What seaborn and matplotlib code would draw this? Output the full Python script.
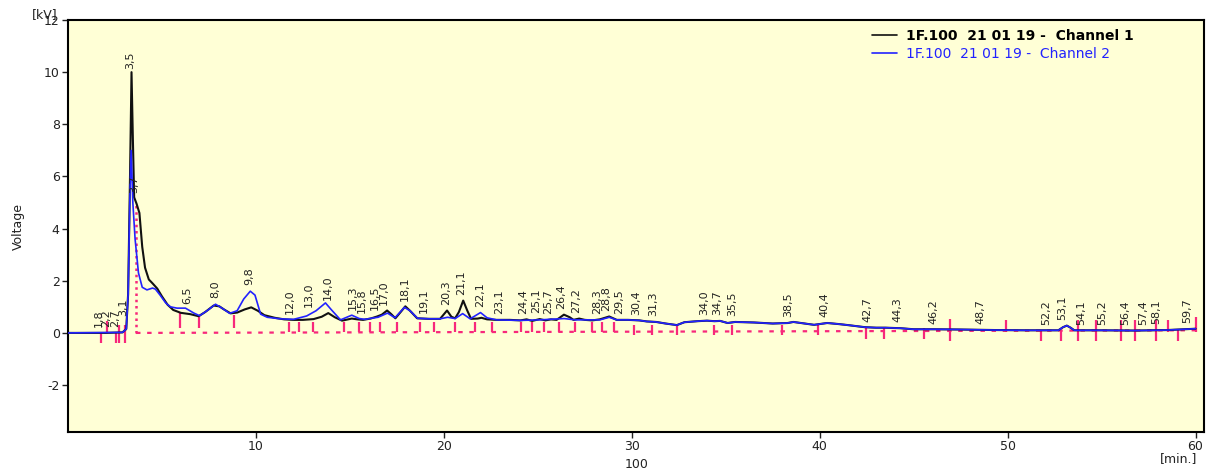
import numpy as np
import pandas as pd
import matplotlib
matplotlib.use("Agg")
import matplotlib.pyplot as plt
from matplotlib.lines import Line2D
import seaborn as sns

# ---------------- data ----------------
ch1_t = [0.0, 1.0, 2.0, 2.9, 3.1, 3.2, 3.3, 3.38, 3.45, 3.52, 3.65, 3.8, 3.95, 4.1, 4.3,
         4.5, 4.75, 5.0, 5.3, 5.6, 6.0, 6.5, 6.95, 7.3, 7.75, 8.05, 8.3, 8.65, 9.0, 9.4,
         9.75, 10.1, 10.45, 11.0, 11.5, 12.0, 12.5, 13.07, 13.5, 13.85, 14.2, 14.58, 15.1,
         15.4, 15.7, 16.1, 16.45, 16.7, 16.98, 17.2, 17.42, 17.7, 17.95, 18.2, 18.58, 19.2,
         19.8, 20.17, 20.4, 20.6, 20.8, 21.03, 21.25, 21.45, 21.8, 22.0, 22.3, 22.8, 23.5,
         24.08, 24.4, 24.7, 25.1, 25.4, 25.7, 26.0, 26.39, 26.7, 26.9, 27.2, 27.5, 27.9,
         28.3, 28.8, 29.2, 29.8, 30.4, 30.8, 31.3, 31.8, 32.4, 32.8, 33.5, 34.0, 34.4, 34.7,
         35.1, 35.5, 36.5, 37.5, 38.3, 38.6, 39.0, 39.7, 40.4, 41.0, 41.5, 42.4, 43.0, 43.5,
         44.3, 45.0, 46.1, 47.5, 49.3, 51.0, 52.7, 52.95, 53.15, 53.35, 53.55, 55.0, 56.8,
         58.5, 59.4, 60.0]
ch1_v = [0.0, 0.0, 0.0, 0.02, 0.15, 1.5, 6.0, 10.0, 7.5, 5.2, 4.95, 4.6, 3.3, 2.5, 2.05,
         1.9, 1.7, 1.4, 1.08, 0.88, 0.77, 0.72, 0.64, 0.8, 1.05, 1.02, 0.9, 0.75, 0.78, 0.9,
         0.98, 0.85, 0.68, 0.58, 0.52, 0.5, 0.5, 0.53, 0.62, 0.76, 0.6, 0.47, 0.55,
         0.52, 0.5, 0.55, 0.63, 0.7, 0.86, 0.72, 0.56, 0.8, 1.02, 0.85, 0.56, 0.54,
         0.54, 0.86, 0.62, 0.56, 0.8, 1.24, 0.85, 0.54, 0.55, 0.58, 0.52, 0.5, 0.5,
         0.48, 0.52, 0.46, 0.53, 0.48, 0.52, 0.5, 0.7, 0.6, 0.5, 0.55, 0.5, 0.48,
         0.52, 0.63, 0.5, 0.5, 0.48, 0.44, 0.42, 0.36, 0.3, 0.41, 0.45, 0.47, 0.45, 0.46,
         0.38, 0.42, 0.4, 0.36, 0.38, 0.42, 0.38, 0.31, 0.38, 0.34, 0.3, 0.22, 0.2, 0.2,
         0.18, 0.14, 0.14, 0.13, 0.11, 0.1, 0.1, 0.22, 0.28, 0.2, 0.1, 0.1, 0.09,
         0.11, 0.14, 0.16]

ch2_t = [0.0, 2.9, 3.1, 3.2, 3.3, 3.36, 3.45, 3.57, 3.75, 3.95, 4.2, 4.5, 4.65, 4.9, 5.2,
         5.45, 5.8, 6.25, 6.7, 7.0, 7.4, 7.85, 8.2, 8.6, 9.0, 9.35, 9.7, 9.95, 10.25, 10.6,
         11.3, 12.0, 12.7, 13.2, 13.7, 14.0, 14.5, 15.1, 15.5, 15.8, 16.2, 16.5, 17.0, 17.4,
         17.9, 18.2, 18.6, 19.2, 19.8, 20.2, 20.6, 21.0, 21.4, 21.95, 22.3, 22.8, 24.08,
         25.1, 26.4, 27.0, 28.3, 28.8, 29.2, 29.8, 30.4, 30.8, 31.3, 31.8, 32.4, 32.8, 33.5,
         34.0, 34.4, 34.7, 35.1, 35.5, 36.5, 37.5, 38.3, 38.6, 39.0, 39.7, 40.4, 41.0, 41.5,
         42.4, 43.0, 43.5, 44.3, 45.0, 46.1, 47.5, 49.3, 51.0, 52.7, 52.95, 53.15, 53.35,
         53.55, 55.0, 56.8, 58.5, 59.4, 60.0]
ch2_v = [0.0, 0.02, 0.15, 1.5, 5.5, 7.0, 5.0, 3.6, 2.3, 1.75, 1.65, 1.72, 1.68, 1.45, 1.15,
         1.0, 0.95, 0.95, 0.76, 0.66, 0.85, 1.1, 0.95, 0.75, 0.85, 1.3, 1.6, 1.45, 0.72, 0.6,
         0.54, 0.52, 0.65, 0.85, 1.15, 0.9, 0.5, 0.68, 0.55, 0.52, 0.57, 0.6, 0.76, 0.58,
         0.98, 0.85, 0.56, 0.54, 0.54, 0.6, 0.55, 0.74, 0.54, 0.78, 0.58, 0.5, 0.48,
         0.5, 0.55, 0.5, 0.5, 0.6, 0.5, 0.5, 0.48, 0.44, 0.42, 0.36, 0.3, 0.41, 0.45,
         0.47, 0.45, 0.46, 0.38, 0.42, 0.4, 0.36, 0.38, 0.42, 0.38, 0.31, 0.38, 0.34, 0.3,
         0.22, 0.2, 0.2, 0.18, 0.14, 0.14, 0.13, 0.11, 0.1, 0.1, 0.22, 0.28, 0.2,
         0.1, 0.1, 0.09, 0.11, 0.14, 0.16]

peak_rt = [1.8, 2.2, 2.7, 3.1, 3.5, 3.7, 6.5, 8.0, 9.8, 12.0, 13.0, 14.0, 15.3, 15.8, 16.5,
           17.0, 18.1, 19.1, 20.3, 21.1, 22.1, 23.1, 24.4, 25.1, 25.7, 26.4, 27.2, 28.3,
           28.8, 29.5, 30.4, 31.3, 34.0, 34.7, 35.5, 38.5, 40.4, 42.7, 44.3, 46.2, 48.7,
           52.2, 53.1, 54.1, 55.2, 56.4, 57.4, 58.1, 59.7]
peak_text = ["1,8", "2,2", "2,7", "3,1", "3,5", "3,7", "6,5", "8,0", "9,8", "12,0", "13,0",
             "14,0", "15,3", "15,8", "16,5", "17,0", "18,1", "19,1", "20,3", "21,1", "22,1",
             "23,1", "24,4", "25,1", "25,7", "26,4", "27,2", "28,3", "28,8", "29,5", "30,4",
             "31,3", "34,0", "34,7", "35,5", "38,5", "40,4", "42,7", "44,3", "46,2", "48,7",
             "52,2", "53,1", "54,1", "55,2", "56,4", "57,4", "58,1", "59,7"]

mark_t = [1.74, 2.09, 2.56, 2.73, 3.04, 5.97, 6.99, 8.81, 11.74, 12.31, 13.02, 14.67, 15.47,
          16.05, 16.62, 17.51, 18.75, 19.46, 20.62, 21.65, 22.54, 24.08, 24.7, 25.32, 26.12,
          27.0, 27.9, 28.43, 29.05, 30.12, 31.1, 32.43, 34.38, 35.36, 37.99, 39.92, 42.46,
          43.44, 45.57, 46.95, 49.92, 51.75, 52.82, 53.74, 54.68, 56.05, 56.76, 57.91,
          58.54, 59.07, 60.04]
mark_lo = [-0.4, 0.0, -0.4, -0.4, -0.4, 0.19, 0.19, 0.19, 0.04, 0.04, 0.04, 0.04, 0.04,
           0.04, 0.04, 0.04, 0.04, 0.04, 0.04, 0.04, 0.04, 0.04, 0.04, 0.04, 0.04,
           0.04, 0.04, 0.04, 0.04, -0.08, -0.08, -0.08, -0.08, -0.08, -0.08, -0.08, -0.22,
           -0.22, -0.22, -0.3, 0.05, -0.3, -0.3, -0.3, -0.3, -0.3, -0.3, -0.3,
           0.05, -0.3, 0.05]
mark_hi = [0.0, 0.45, 0.0, 0.3, 0.3, 0.77, 0.63, 0.7, 0.4, 0.4, 0.4, 0.4, 0.4,
           0.4, 0.4, 0.4, 0.4, 0.4, 0.4, 0.4, 0.4, 0.4, 0.4, 0.4, 0.4,
           0.4, 0.4, 0.4, 0.4, 0.3, 0.3, 0.3, 0.3, 0.3, 0.3, 0.3, 0.18,
           0.18, 0.18, 0.55, 0.5, 0.1, 0.1, 0.5, 0.5, 0.5, 0.5, 0.5,
           0.5, 0.1, 0.6]

base_t = [3.62, 60.0]
base_v = [0.0, 0.1]
start_t = [3.62, 3.62]
start_v = [0.0, 5.0]

x_ticks = [10, 20, 30, 40, 50, 60]
y_ticks = [-2, 0, 2, 4, 6, 8, 10, 12]
series_names = ["1F.100  21 01 19 -  Channel 1", "1F.100  21 01 19 -  Channel 2"]

# ---------------- styling ----------------
BLACK = "#111111"
BLUE = "#2222FF"
PINK = "#F7287B"
BG = "#FFFFD6"
TXT = "#222222"

sns.set_theme(style="ticks")
plt.rcParams["font.family"] = ["DejaVu Sans"]
plt.rcParams["axes.unicode_minus"] = False

fig = plt.figure(figsize=(12.22, 4.72), dpi=100)
fig.patch.set_facecolor("white")
ax = fig.add_axes([68 / 1222, 40 / 472, 1136 / 1222, 412 / 472])
ax.set_facecolor(BG)

df = pd.concat([
    pd.DataFrame({"t": ch1_t, "v": ch1_v, "series": series_names[0]}),
    pd.DataFrame({"t": ch2_t, "v": ch2_v, "series": series_names[1]}),
], ignore_index=True)

# pink integration marks / baselines
ax.vlines(mark_t, mark_lo, mark_hi, color=PINK, lw=1.6, zorder=2)
ax.plot(base_t, base_v, color=PINK, lw=1.6, ls=(0, (2, 3)), zorder=2)
ax.plot(start_t, start_v, color=PINK, lw=1.8, ls=(0, (1, 1.5)), zorder=2)

sns.lineplot(data=df, x="t", y="v", hue="series", palette=[BLACK, BLUE],
             estimator=None, sort=False, legend=False, ax=ax, zorder=3)
ax.lines[-2].set_linewidth(1.5)
ax.lines[-1].set_linewidth(1.2)

# peak labels
t1 = np.array(ch1_t); v1 = np.array(ch1_v)
t2 = np.array(ch2_t); v2 = np.array(ch2_v)
for rt, txt in zip(peak_rt, peak_text):
    w = np.linspace(rt - 0.15, rt + 0.02, 25)
    h = max(np.interp(w, t1, v1).max(), np.interp(w, t2, v2).max())
    ax.text(rt - 0.17, h + 0.22, txt, rotation=90, ha="center", va="bottom",
            fontsize=8, color=TXT, zorder=4)

ax.set_xlim(0, 60.45)
ax.set_ylim(-3.8, 12)
ax.set_xticks(x_ticks)
ax.set_yticks(y_ticks)
ax.set_xlabel("")
ax.set_ylabel("")
for s in ax.spines.values():
    s.set_visible(True)
    s.set_color("black")
    s.set_linewidth(1.5)
ax.tick_params(axis="both", direction="out", length=4, width=1, colors=TXT,
               labelsize=9, pad=2)

# legend
handles = [Line2D([0], [0], color=BLACK, lw=1.2), Line2D([0], [0], color=BLUE, lw=1.2)]
leg = ax.legend(handles, series_names, loc="upper left", bbox_to_anchor=(0.708, 0.978),
                frameon=False, fontsize=10, handlelength=1.8, handletextpad=0.6,
                labelspacing=0.3, borderaxespad=0, borderpad=0)
leg.get_texts()[0].set_fontweight("bold")
leg.get_texts()[0].set_color("black")
leg.get_texts()[1].set_color(BLUE)

# extra texts
fig.text(18 / 1222, 1 - 226 / 472, "Voltage", rotation=90, ha="center", va="center",
         fontsize=9, color=TXT)
fig.text(45 / 1222, 1 - 15 / 472, "[kV]", ha="center", va="center", fontsize=9, color=TXT)
fig.text(637 / 1222, 1 - 465 / 472, "100", ha="center", va="center", fontsize=9, color=TXT)
fig.text(1197 / 1222, 1 - 459 / 472, "[min.]", ha="right", va="center", fontsize=9, color=TXT)

fig.savefig("out.png", dpi=100)
